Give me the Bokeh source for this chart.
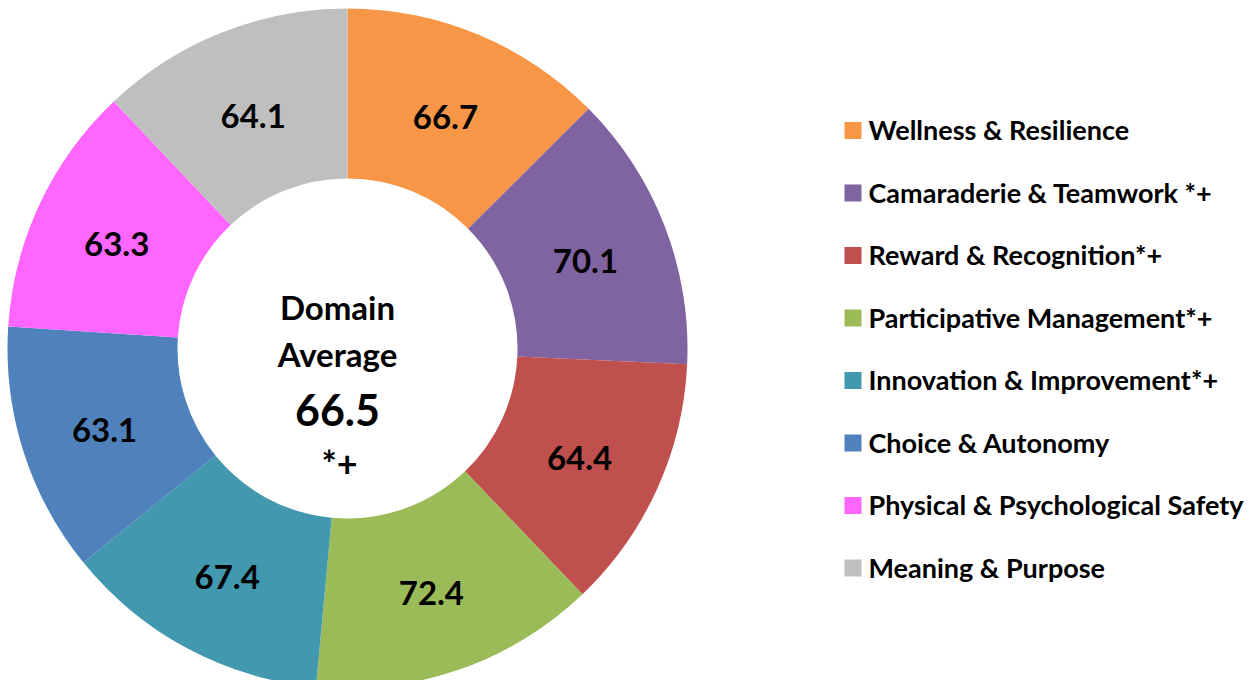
import math
from bokeh.plotting import figure
from bokeh.models import ColumnDataSource
from bokeh.core.properties import value
from bokeh.embed import file_html
from bokeh.resources import INLINE

# ---- data ----
categories = ["Wellness & Resilience", "Camaraderie & Teamwork *+", "Reward & Recognition*+",
              "Participative Management*+", "Innovation & Improvement*+", "Choice & Autonomy",
              "Physical & Psychological Safety", "Meaning & Purpose"]
scores = [66.7, 70.1, 64.4, 72.4, 67.4, 63.1, 63.3, 64.1]
colors = ["#F79646", "#8064A2", "#C0504D", "#9BBB59", "#4198AF", "#4F81BD", "#FF66FF", "#BFBFBF"]
center_lines = ["Domain", "Average", "66.5", "*+"]

W, H = 1250, 680
FONT = value("Lato")
TXT_SHIFT = 8  # empirical baseline correction (screen px, upward)


def px(x):
    return x


def py(y):
    return H - y


p = figure(width=W, height=H, x_range=(0, W), y_range=(0, H), output_backend="svg",
           toolbar_location=None, min_border=0, x_axis_location=None, y_axis_location=None)
p.grid.visible = False
p.outline_line_color = None
p.background_fill_color = "white"

cx, cy = px(347), py(348)
r_in, r_out = 170, 340
total = sum(scores)

starts, ends, lx, ly, labels = [], [], [], [], []
cum = 0.0
for v in scores:
    s = math.pi / 2 - 2 * math.pi * cum / total
    e = math.pi / 2 - 2 * math.pi * (cum + v) / total
    starts.append(s)
    ends.append(e)
    m = (s + e) / 2
    lx.append(cx + 255 * math.cos(m))
    ly.append(cy + 255 * math.sin(m) - 12 + TXT_SHIFT)
    labels.append(f"{v:.1f}")
    cum += v

src = ColumnDataSource(dict(start=starts, end=ends, color=colors, lx=lx, ly=ly, label=labels))
p.annular_wedge(x=cx, y=cy, inner_radius=r_in, outer_radius=r_out, start_angle="start",
                end_angle="end", direction="clock", fill_color="color", line_color=None, source=src)
p.text(x="lx", y="ly", text="label", source=src, text_align="center", text_baseline="alphabetic",
       text_font=FONT, text_font_style="bold", text_font_size=value("33px"), text_color="black")

# center text
cxs = [px(337), px(337), px(337), px(339)]
cys = [py(316) + TXT_SHIFT + 2, py(363) + TXT_SHIFT + 2, py(417) + TXT_SHIFT, py(470) + TXT_SHIFT]
csz = ["33px", "33px", "43px", "36px"]
for t, x, y, s in zip(center_lines, cxs, cys, csz):
    p.text(x=[x], y=[y], text=[t], text_align="center", text_baseline="alphabetic",
           text_font=FONT, text_font_style="bold", text_font_size=value(s), text_color="black")

# legend
leg_y = [130 + 62.5 * i for i in range(len(categories))]
lsrc = ColumnDataSource(dict(x=[px(852.5)] * len(categories), y=[py(v) for v in leg_y],
                             tx=[px(868)] * len(categories),
                             ty=[py(v + 7) + TXT_SHIFT for v in leg_y],
                             color=colors, name=categories))
p.rect(x="x", y="y", width=17, height=17, fill_color="color", line_color=None, source=lsrc)
p.text(x="tx", y="ty", text="name", source=lsrc, text_align="left", text_baseline="alphabetic",
       text_font=FONT, text_font_style="bold", text_font_size=value("27px"), text_color="black")

open("out.html", "w").write(file_html(p, INLINE))
